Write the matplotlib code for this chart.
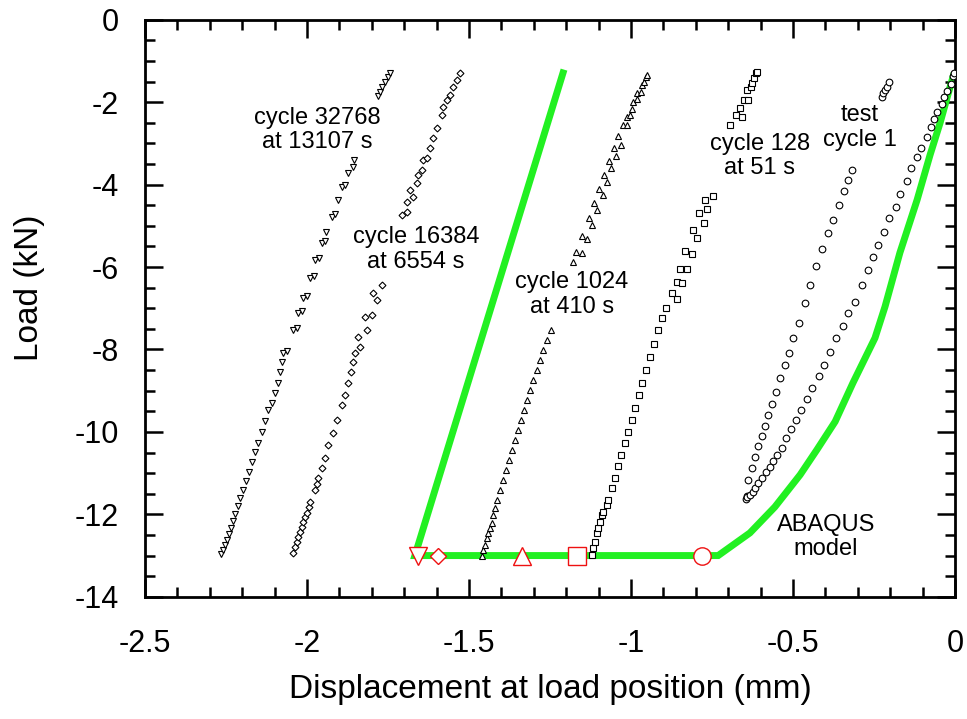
import matplotlib
matplotlib.use("Agg")
import matplotlib.pyplot as plt
from matplotlib.ticker import MultipleLocator

plt.rcParams['font.family'] = ['Liberation Sans', 'DejaVu Sans']

# ---- data (mm, kN) ----
c32768_x = [-2.265, -2.259, -2.253, -2.247, -2.241, -2.235, -2.228, -2.222, -2.213, -2.207,
            -2.198, -2.188, -2.179, -2.170, -2.161, -2.151, -2.139, -2.130, -2.120, -2.108,
            -2.099, -2.090, -2.083, -2.077, -2.074, -2.062, -2.043, -2.031, -2.028, -2.015,
            -2.012, -2.000, -1.991, -1.978, -1.975, -1.963, -1.954, -1.944, -1.941, -1.923,
            -1.914, -1.904, -1.892, -1.883, -1.873, -1.858, -1.855,
            -1.781, -1.775, -1.769, -1.759, -1.750, -1.744]
c32768_y = [-12.96, -12.86, -12.74, -12.62, -12.47, -12.33, -12.16, -11.99, -11.79, -11.60,
            -11.41, -11.19, -10.97, -10.73, -10.48, -10.26, -10.00, -9.73, -9.46, -9.29,
            -9.05, -8.81, -8.54, -8.30, -8.08, -8.03, -7.52, -7.47, -7.11, -7.06,
            -6.75, -6.70, -6.26, -6.21, -5.82, -5.78, -5.41, -5.36, -5.14, -4.78,
            -4.71, -4.37, -4.05, -4.00, -3.71, -3.57, -3.40,
            -1.84, -1.75, -1.63, -1.50, -1.38, -1.29]

c16384_x = [-2.043, -2.037, -2.031, -2.028, -2.022, -2.015, -2.012, -2.006, -2.000, -1.994,
            -1.991, -1.975, -1.969, -1.966, -1.954, -1.944, -1.935, -1.920, -1.907, -1.892,
            -1.883, -1.873, -1.864, -1.858, -1.852, -1.836, -1.843, -1.815, -1.821, -1.799,
            -1.796, -1.784, -1.769,
            -1.707, -1.691, -1.691, -1.673, -1.682, -1.660, -1.657, -1.645, -1.642, -1.630,
            -1.620, -1.611, -1.599, -1.583, -1.580, -1.568, -1.559, -1.549, -1.537, -1.528]
c16384_y = [-12.93, -12.79, -12.67, -12.55, -12.42, -12.30, -12.18, -12.06, -11.96, -11.82,
            -11.70, -11.41, -11.26, -11.11, -10.87, -10.63, -10.31, -10.02, -9.71, -9.34,
            -9.10, -8.81, -8.54, -8.30, -8.08, -7.94, -7.69, -7.52, -7.21, -7.16,
            -6.62, -6.79, -6.43,
            -4.73, -4.66, -4.42, -4.30, -4.13, -3.96, -3.76, -3.64, -3.40, -3.35,
            -3.11, -2.86, -2.62, -2.31, -2.11, -1.94, -1.82, -1.63, -1.46, -1.29]

c1024_x = [-1.460, -1.457, -1.451, -1.444, -1.441, -1.435, -1.429, -1.426, -1.420, -1.414,
           -1.404, -1.395, -1.386, -1.377, -1.367, -1.358, -1.349, -1.340, -1.330, -1.321,
           -1.312, -1.302, -1.290, -1.281, -1.272, -1.259, -1.247,
           -1.179, -1.170, -1.151, -1.151, -1.136, -1.130, -1.120, -1.114, -1.105, -1.099,
           -1.086, -1.083, -1.074, -1.068, -1.062, -1.052, -1.046, -1.040, -1.031, -1.025,
           -1.012, -1.012, -1.003, -0.997, -0.994, -0.981, -0.981, -0.969, -0.966, -0.960,
           -0.954, -0.951]
c1024_y = [-13.01, -12.86, -12.74, -12.57, -12.45, -12.33, -12.21, -12.01, -11.84, -11.65,
           -11.41, -11.16, -10.92, -10.68, -10.43, -10.19, -9.95, -9.71, -9.46, -9.22,
           -8.98, -8.74, -8.49, -8.25, -8.01, -7.77, -7.52,
           -5.87, -5.63, -5.65, -5.24, -5.31, -4.80, -4.97, -4.44, -4.61, -4.10,
           -4.25, -3.76, -3.93, -3.42, -3.59, -3.11, -3.30, -2.81, -3.03, -2.55,
           -2.55, -2.35, -2.31, -2.16, -1.99, -1.92, -1.77, -1.75, -1.58, -1.50,
           -1.38, -1.33]

c128_x = [-1.120, -1.117, -1.111, -1.105, -1.102, -1.096, -1.090, -1.086, -1.074, -1.071,
          -1.059, -1.049, -1.040, -1.031, -1.019, -1.009, -0.997, -0.988, -0.975, -0.966,
          -0.954, -0.941, -0.929, -0.917, -0.904, -0.892, -0.873, -0.858, -0.858, -0.843,
          -0.849, -0.827, -0.833, -0.812, -0.809, -0.796, -0.790, -0.775, -0.772, -0.765,
          -0.747,
          -0.694, -0.676, -0.657, -0.664, -0.651, -0.639, -0.642, -0.630, -0.627, -0.620,
          -0.614, -0.611]
c128_y = [-12.98, -12.81, -12.67, -12.45, -12.33, -12.18, -12.01, -11.94, -11.77, -11.65,
          -11.36, -11.11, -10.82, -10.56, -10.26, -10.00, -9.71, -9.42, -9.10, -8.81,
          -8.49, -8.18, -7.86, -7.52, -7.23, -6.99, -6.62, -6.77, -6.36, -6.38,
          -6.04, -6.04, -5.61, -5.68, -5.10, -5.29, -4.68, -4.93, -4.37, -4.59,
          -4.27,
          -2.55, -2.31, -2.35, -2.14, -1.94, -1.94, -1.70, -1.63, -1.53, -1.41,
          -1.29, -1.26]

# test cycle 1: unloading (left) branch and loading (right) branch
c1_left_x = [-0.645, -0.643, -0.642, -0.639, -0.627, -0.617, -0.608, -0.596, -0.586, -0.577,
             -0.565, -0.552, -0.540, -0.525, -0.512, -0.500, -0.481, -0.463, -0.448, -0.429,
             -0.410, -0.392, -0.377, -0.358, -0.343, -0.330, -0.318,
             -0.225, -0.222, -0.216, -0.210, -0.204]
c1_left_y = [-11.62, -11.55, -11.58, -11.16, -10.87, -10.60, -10.34, -10.09, -9.85, -9.59,
             -9.32, -9.03, -8.69, -8.37, -8.08, -7.72, -7.35, -6.87, -6.43, -5.97,
             -5.56, -5.17, -4.85, -4.49, -4.15, -3.88, -3.64,
             -1.87, -1.77, -1.70, -1.63, -1.50]
c1_right_x = [-0.633, -0.623, -0.617, -0.608, -0.596, -0.583, -0.571, -0.562, -0.549, -0.534,
              -0.522, -0.506, -0.491, -0.475, -0.457, -0.441, -0.420, -0.404, -0.386, -0.367,
              -0.346, -0.330, -0.309, -0.287, -0.269, -0.253, -0.238, -0.219, -0.204, -0.182,
              -0.170, -0.148, -0.136, -0.117, -0.105, -0.086, -0.074, -0.065, -0.056, -0.040,
              -0.034, -0.025, -0.012, -0.006, -0.003]
c1_right_y = [-11.53, -11.45, -11.36, -11.24, -11.11, -10.97, -10.85, -10.70, -10.56, -10.39,
              -10.14, -9.92, -9.71, -9.46, -9.20, -8.93, -8.64, -8.37, -8.06, -7.72,
              -7.43, -7.11, -6.84, -6.43, -6.07, -5.75, -5.46, -5.14, -4.80, -4.54,
              -4.22, -3.91, -3.59, -3.32, -3.11, -2.84, -2.60, -2.40, -2.23, -2.04,
              -1.87, -1.72, -1.55, -1.36, -1.29]

# ABAQUS model curve
abaqus_x = [-1.210, -1.667, -0.731, -0.633, -0.556, -0.478, -0.426, -0.370, -0.315,
            -0.247, -0.216, -0.170, -0.117, -0.077, -0.046, -0.022, -0.006]
abaqus_y = [-1.29, -13.00, -13.00, -12.45, -11.82, -11.04, -10.43, -9.75, -8.81,
            -7.72, -6.96, -5.65, -4.37, -3.28, -2.50, -1.82, -1.38]

# red markers on the ABAQUS plateau (end displacement of each cycle)
red_x = [-1.657, -1.596, -1.336, -1.167, -0.781]
red_y = [-13.0, -13.0, -13.0, -13.0, -13.0]
red_markers = ['v', 'D', '^', 's', 'o']
red_sizes = [12.5, 8.5, 12.5, 12.5, 12.5]

labels = ["cycle 32768\nat 13107 s", "cycle 16384\nat 6554 s", "cycle 1024\nat 410 s",
          "cycle 128\nat 51 s", "test\ncycle 1", "ABAQUS\nmodel"]
label_x = [-1.969, -1.664, -1.182, -0.602, -0.293, -0.398]
label_y = [-2.67, -5.58, -6.67, -3.30, -2.62, -12.55]

# ---- figure ----
fig = plt.figure(figsize=(9.67, 7.19), dpi=100)
ax = fig.add_axes([0.150, 0.170, 0.8376, 0.8025])

green = '#22f022'
ax.plot(abaqus_x, abaqus_y, color=green, lw=5.0, solid_joinstyle='miter', zorder=2)

mk = dict(linestyle='none', mfc='white', mec='black', mew=0.8, zorder=3)
ax.plot(c32768_x, c32768_y, marker='v', ms=5.0, **mk)
ax.plot(c16384_x, c16384_y, marker='D', ms=3.5, **mk)
ax.plot(c1024_x, c1024_y, marker='^', ms=5.0, **mk)
ax.plot(c128_x, c128_y, marker='s', ms=4.8, **mk)
ax.plot(c1_left_x, c1_left_y, marker='o', ms=4.8, **mk)
ax.plot(c1_right_x, c1_right_y, marker='o', ms=4.8, **mk)

for x, y, m, s in zip(red_x, red_y, red_markers, red_sizes):
    ax.plot([x], [y], marker=m, ms=s, mfc='white', mec='#ee1111', mew=1.0,
            linestyle='none', zorder=4)

for t, x, y in zip(labels, label_x, label_y):
    ax.text(x, y, t, ha='center', va='center', fontsize=17, zorder=5,
            linespacing=1.15)

ax.set_xlim(-2.5, 0)
ax.set_ylim(-14, 0)
ax.xaxis.set_major_locator(MultipleLocator(0.5))
ax.xaxis.set_minor_locator(MultipleLocator(0.1))
ax.yaxis.set_major_locator(MultipleLocator(2))
ax.yaxis.set_minor_locator(MultipleLocator(0.5))
ax.set_xticks([-2.5, -2, -1.5, -1, -0.5, 0])
ax.set_xticklabels(['-2.5', '-2', '-1.5', '-1', '-0.5', '0'])
ax.set_yticks([0, -2, -4, -6, -8, -10, -12, -14])
ax.set_yticklabels(['0', '-2', '-4', '-6', '-8', '-10', '-12', '-14'])

ax.tick_params(which='both', direction='in', top=True, right=True, width=1.8, color='black')
ax.tick_params(which='major', length=13)
ax.tick_params(which='minor', length=7)
ax.tick_params(axis='x', which='major', labelsize=22, pad=23)
ax.tick_params(axis='y', which='major', labelsize=22, pad=19)
for sp in ax.spines.values():
    sp.set_linewidth(2.0)

ax.set_xlabel('Displacement at load position (mm)', fontsize=24, labelpad=11)
ax.set_ylabel('Load (kN)', fontsize=24)
ax.yaxis.set_label_coords(-0.124, 0.535)

fig.savefig('out.png', dpi=100)
